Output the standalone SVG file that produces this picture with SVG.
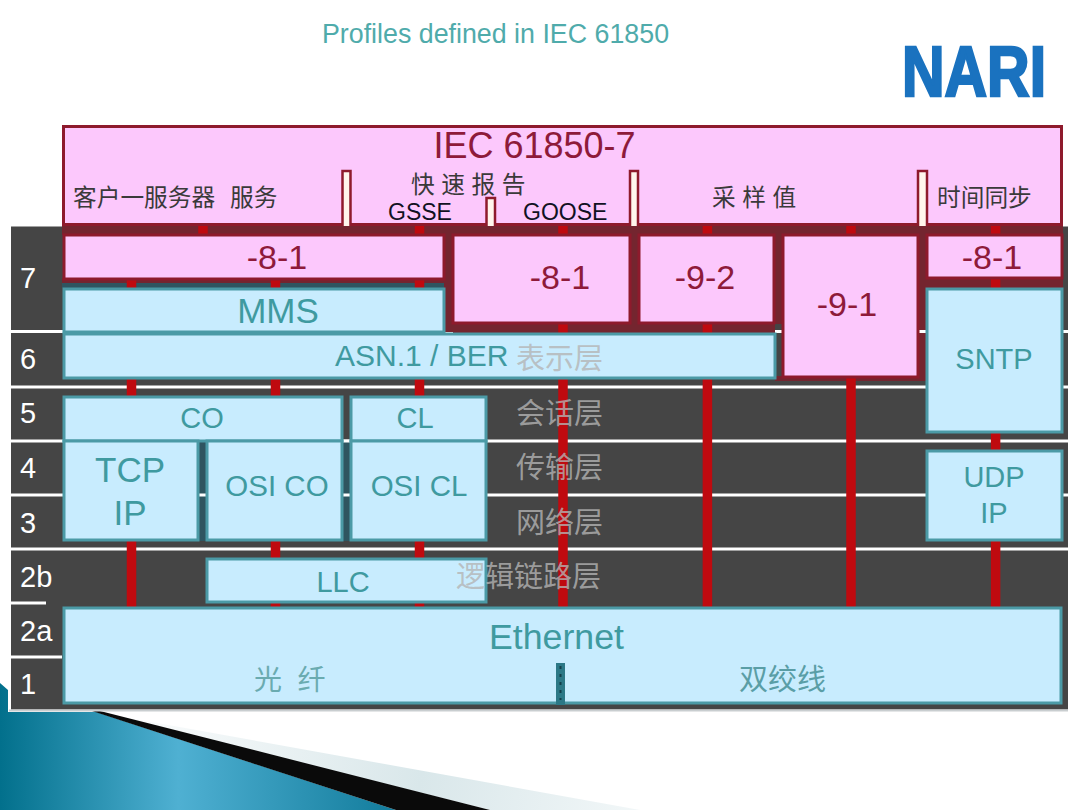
<svg xmlns="http://www.w3.org/2000/svg" width="1080" height="810" viewBox="0 0 1080 810">
<style>
text{font-family:"Liberation Sans","Noto Sans CJK SC",sans-serif}
.p{fill:#fcc8fc;stroke:#8e1a2c;stroke-width:3}
.b{fill:#c8ecfe;stroke:#4b9aa6;stroke-width:3}
.gap{fill:#74252f}
.gt{fill:#2f5560}
.w{stroke:#fff;stroke-width:3;fill:none}
.r{stroke:#bf0a0f;stroke-width:9.5;fill:none}
.tp{fill:#8e1a3a;text-anchor:middle}
.tb{fill:#3f9aa0;text-anchor:middle}
.tk{fill:#3a3a3a;font-size:23.700px}
.tg{fill:#111122;font-size:23px}
.cn{fill:#b4b4b4;fill-opacity:.8;font-size:29px}
.ln{fill:#fff;font-size:29px}
</style>
<defs>
<linearGradient id="teal" x1="0" y1="0" x2="1" y2="0"><stop offset="0" stop-color="#02708c"/><stop offset=".45" stop-color="#4fb0d2"/><stop offset="1" stop-color="#127c9c"/></linearGradient>
<linearGradient id="pale" x1="96" y1="712" x2="640" y2="810" gradientUnits="userSpaceOnUse"><stop offset="0" stop-color="#ffffff"/><stop offset=".6" stop-color="#d9e7ea"/><stop offset="1" stop-color="#f2f7f8"/></linearGradient>
</defs>
<rect width="1080" height="810" fill="#fff"/>
<g id="corner">
<polygon points="96,712 490,810 640,810" fill="url(#pale)"/>
<polygon points="0,683 8,690 8,712 96,712 396,810 0,810" fill="url(#teal)"/>
<polygon points="92,711 100,711 490,810 396,810" fill="#0a0a0a"/>
</g>
<text x="495.500" y="43" text-anchor="middle" font-size="26.800" fill="#4fabab">Profiles defined in IEC 61850</text>
<text id="logo" x="902" y="96" font-size="70" font-weight="700" fill="#1a72bf" stroke="#1a72bf" stroke-width="2.500" textLength="144" lengthAdjust="spacingAndGlyphs">NARI</text>
<g id="band">
<rect x="11" y="226.500" width="1057" height="483" fill="#454545"/>
<rect x="9" y="709.500" width="1059" height="2" fill="#c9ced0"/>
<path class="w" d="M11 331.500H1068M11 387H1068M11 441H1068M11 495H1068M11 549H1068M11 603H46M11 657H62"/>
<rect class="gap" x="62" y="226" width="1001" height="9"/>
<rect class="gap" x="62" y="278" width="384" height="5"/>
<rect class="gt" x="62" y="283" width="384" height="5"/>
<rect class="gap" x="444" y="234" width="10" height="98"/>
<rect class="gap" x="453" y="322" width="322" height="11"/>
<rect class="gap" x="630" y="234" width="10" height="90"/>
<rect class="gap" x="774" y="234" width="10" height="90"/>
<rect class="gap" x="917" y="234" width="10" height="145"/>
<rect class="gap" x="927" y="278" width="136" height="10"/>
<rect class="gap" x="775" y="376" width="152" height="5"/>
<rect class="gt" x="198" y="442" width="9" height="99"/>
<rect class="gt" x="342" y="442" width="9" height="99"/>
<path class="w" d="M198 495H207M342 495H351M342 441H351M775 331.500H783M918 331.500H927"/>
</g>
<g id="connectors">
<path class="r" d="M203 225V234M419.500 225V234M563 225V234M707.400 225V234M851 225V234M995.600 225V234"/>
<path class="r" d="M131.500 278V288M275.500 278V288M419.500 278V288M995.600 277V288"/>
<path class="r" d="M563 322V334M707.400 322V334"/>
<path class="r" d="M131.500 378V396M275.500 378V396M419.500 378V396"/>
<path class="r" d="M563 378V608M707.400 378V608M851 377V608"/>
<path class="r" d="M995.600 432V450M995.600 541V608"/>
<path class="r" d="M131.500 540V608M275.500 540V558M419.500 540V558M275.500 602V608M419.500 602V608"/>
</g>
<g id="iec7">
<rect class="p" x="63.500" y="126.500" width="998" height="98"/>
<g fill="#fff6ec" stroke="#8e1a2c" stroke-width="2.500">
<path d="M342.500 226V171H350.500V226"/>
<path d="M486.500 226V198H495V226"/>
<path d="M630 226V171H638V226"/>
<path d="M918 226V171H927V226"/>
</g>
<text class="tp" x="534.500" y="158" font-size="36">IEC 61850-7</text>
<text class="tk" x="73" y="206">客户一服务器</text>
<text class="tk" x="230" y="206">服务</text>
<text class="tk" x="411" y="193" xml:space="preserve">快 速 报 告</text>
<text class="tg" x="388" y="220">GSSE</text>
<text class="tg" x="523" y="220">GOOSE</text>
<text class="tk" x="712" y="206" xml:space="preserve">采 样 值</text>
<text class="tk" x="937" y="206">时间同步</text>
</g>
<g id="mms"><rect class="b" x="64" y="289" width="380" height="43"/><text class="tb" x="278" y="323" font-size="35">MMS</text></g>
<g id="asn"><rect class="b" x="64" y="334" width="711" height="44"/><text class="tb" x="335" y="366" font-size="30" style="text-anchor:start">ASN.1 / BER</text></g>
<g id="p81a"><rect class="p" x="64" y="235" width="380" height="44"/><text class="tp" x="277" y="269" font-size="34">-8-1</text></g>
<g id="p81b"><rect class="p" x="453" y="235" width="177" height="88"/><text class="tp" x="560" y="289" font-size="34">-8-1</text></g>
<g id="p92"><rect class="p" x="639" y="235" width="135" height="88"/><text class="tp" x="705" y="289" font-size="34">-9-2</text></g>
<g id="p91"><rect class="p" x="783" y="235" width="135" height="142"/><text class="tp" x="847" y="316" font-size="34">-9-1</text></g>
<g id="p81c"><rect class="p" x="927" y="235" width="135" height="43"/><text class="tp" x="992" y="269" font-size="34">-8-1</text></g>
<g id="sntp"><rect class="b" x="927" y="289" width="135" height="143"/><text class="tb" x="994" y="369" font-size="29">SNTP</text></g>
<g id="udp"><rect class="b" x="927" y="451" width="135" height="89"/><text class="tb" x="994" y="487" font-size="29">UDP</text><text class="tb" x="994" y="523" font-size="29">IP</text></g>
<g id="co"><rect class="b" x="64" y="397" width="278" height="44"/><text class="tb" x="202" y="428" font-size="29">CO</text></g>
<g id="cl"><rect class="b" x="351" y="397" width="135" height="44"/><text class="tb" x="415" y="428" font-size="29">CL</text></g>
<g id="tcp"><rect class="b" x="64" y="441" width="134" height="99"/><text class="tb" x="130" y="482" font-size="35">TCP</text><text class="tb" x="130" y="525" font-size="35">IP</text></g>
<g id="osico"><rect class="b" x="207" y="441" width="135" height="99"/><text class="tb" x="277" y="496" font-size="29.500">OSI CO</text></g>
<g id="osicl"><rect class="b" x="351" y="441" width="135" height="99"/><text class="tb" x="419" y="496" font-size="29.500">OSI CL</text></g>
<g id="llc"><rect class="b" x="207" y="559" width="279" height="43"/><text class="tb" x="343" y="592" font-size="29">LLC</text></g>
<g id="ethernet">
<rect class="b" x="64" y="608" width="997" height="95"/>
<rect x="556" y="663" width="9" height="42" fill="#2c7886"/>
<path d="M560.500 666V700" stroke="#123f4a" stroke-width="2" stroke-dasharray="3 5" fill="none"/>
<text class="tb" x="556.500" y="649" font-size="35.700">Ethernet</text>
<text class="tb" x="254" y="690" font-size="28" style="text-anchor:start;fill:#6aabb0" xml:space="preserve">光  纤</text>
<text class="tb" x="739" y="690" font-size="29" style="text-anchor:start;fill:#5a9ea6">双绞线</text>
</g>
<g id="layers">
<text class="ln" x="20" y="288">7</text>
<text class="ln" x="20" y="369">6</text>
<text class="ln" x="20" y="423">5</text>
<text class="ln" x="20" y="478">4</text>
<text class="ln" x="20" y="533">3</text>
<text class="ln" x="20" y="587">2b</text>
<text class="ln" x="20" y="641">2a</text>
<text class="ln" x="20" y="694">1</text>
<text class="cn" x="516" y="369">表示层</text>
<text class="cn" x="516" y="424">会话层</text>
<text class="cn" x="516" y="478">传输层</text>
<text class="cn" x="516" y="533">网络层</text>
<text class="cn" x="456" y="587">逻辑链路层</text>
</g>
</svg>
